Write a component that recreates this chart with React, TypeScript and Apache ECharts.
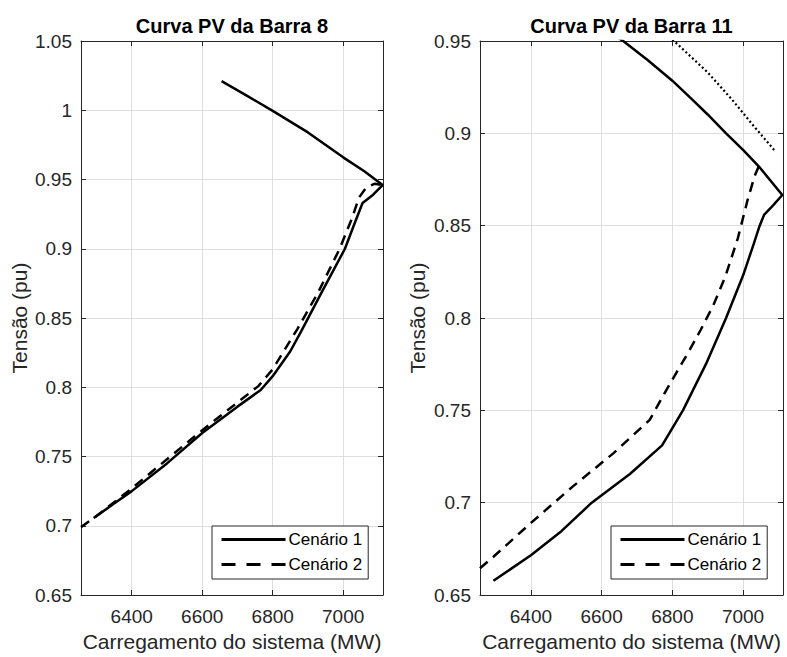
import React, { useEffect, useRef } from "react";
import * as echarts from "echarts";

// ---- Data (MW, pu) ----
const X_MIN = 6256;
const X_MAX = 7113;
const xTicks = [6400, 6600, 6800, 7000];

const barra8Cenario1: [number, number][] = [
  [6292, 0.7056], [6350, 0.716], [6400, 0.725], [6500, 0.745], [6600, 0.767],
  [6700, 0.786], [6766, 0.798], [6800, 0.808], [6850, 0.826], [6880, 0.84],
  [6940, 0.869], [7005, 0.9], [7035, 0.92], [7055, 0.933], [7085, 0.939],
  [7112, 0.946], [7060, 0.956], [7000, 0.966], [6900, 0.984], [6800, 0.9995],
  [6730, 1.01], [6655, 1.021],
];
const barra8Cenario2: [number, number][] = [
  [6256, 0.699], [6300, 0.707], [6400, 0.727], [6500, 0.748], [6600, 0.769],
  [6700, 0.789], [6760, 0.801], [6800, 0.813], [6870, 0.842], [6930, 0.869],
  [6990, 0.9], [7025, 0.922], [7045, 0.937], [7065, 0.944], [7090, 0.947],
  [7112, 0.946],
];

const barra11Cenario1: [number, number][] = [
  [6294, 0.6577], [6400, 0.6715], [6487, 0.6847], [6572, 0.7], [6680, 0.7155],
  [6771, 0.731], [6830, 0.75], [6895, 0.775], [6952, 0.8], [7000, 0.823],
  [7030, 0.84], [7047, 0.85], [7060, 0.856], [7085, 0.861], [7111, 0.8666],
  [7045, 0.882], [7000, 0.891], [6952, 0.9], [6900, 0.9102], [6858, 0.918],
  [6800, 0.9285], [6730, 0.9397], [6661, 0.95], [6560, 0.962],
];
const barra11Cenario2: [number, number][] = [
  [6256, 0.6645], [6294, 0.6707], [6401, 0.6892], [6518, 0.7087], [6633, 0.7267],
  [6736, 0.7448], [6783, 0.761], [6849, 0.7827], [6880, 0.7935], [6915, 0.8065],
  [6950, 0.8225], [6985, 0.843], [7013, 0.864], [7033, 0.877], [7050, 0.8846],
];
const barra11Cenario2Superior: [number, number][] = [
  [7088, 0.891], [7030, 0.904], [6970, 0.918], [6900, 0.933], [6802, 0.9505],
  [6700, 0.966],
];

const titles = ["Curva PV da Barra 8", "Curva PV da Barra 11"];
const yRanges: [number, number][] = [[0.65, 1.05], [0.65, 0.95]];
const legendNames = ["Cenário 1", "Cenário 2"];
const xLabel = "Carregamento do sistema (MW)";
const yLabel = "Tensão (pu)";

const FONT = "'Liberation Sans', Arial, Helvetica, sans-serif";
const AX = "#262626";
const GRIDC = "#dedede";

export default function App() {
  const ref = useRef<HTMLDivElement>(null);
  useEffect(() => {
    if (!ref.current) return;
    const chart = echarts.init(ref.current, undefined, { renderer: "svg" });

    const grids = [
      { left: 81, top: 41, width: 302, height: 554 },
      { left: 480, top: 41, width: 303, height: 554 },
    ];

    const xAxes: any[] = [];
    const yAxes: any[] = [];
    grids.forEach((_, g) => {
      const baseX = {
        type: "value",
        gridIndex: g,
        min: X_MIN,
        max: X_MAX,
        minInterval: 200,
        maxInterval: 200,
        axisLine: { show: true, onZero: false, lineStyle: { color: AX, width: 1 } },
        axisTick: { show: true, inside: true, length: 5, lineStyle: { color: AX } },
      };
      xAxes.push({
        ...baseX,
        position: "bottom",
        splitLine: { show: true, lineStyle: { color: GRIDC, width: 1 } },
        axisLabel: {
          show: true,
          margin: 12,
          fontSize: 19,
          color: AX,
          fontFamily: FONT,
          showMinLabel: false,
          showMaxLabel: false,
          formatter: (v: number) => (xTicks.includes(Math.round(v)) ? String(Math.round(v)) : ""),
        },
        name: xLabel,
        nameLocation: "middle",
        nameGap: 31,
        nameTextStyle: { fontSize: 21, color: AX, fontFamily: FONT },
      });
      xAxes.push({
        ...baseX,
        position: "top",
        splitLine: { show: false },
        axisLabel: { show: false },
        name: titles[g],
        nameLocation: "middle",
        nameGap: 5,
        nameTextStyle: { fontSize: 20, fontWeight: "bold", color: "#000", fontFamily: FONT },
      });
      const baseY = {
        type: "value",
        gridIndex: g,
        min: yRanges[g][0],
        max: yRanges[g][1],
        interval: 0.05,
        axisLine: { show: true, onZero: false, lineStyle: { color: AX, width: 1 } },
        axisTick: { show: true, inside: true, length: 5, lineStyle: { color: AX } },
      };
      yAxes.push({
        ...baseY,
        position: "left",
        splitLine: { show: true, lineStyle: { color: GRIDC, width: 1 } },
        axisLabel: { show: true, margin: 9, fontSize: 19, color: AX, fontFamily: FONT },
        name: yLabel,
        nameLocation: "middle",
        nameGap: g === 0 ? 51 : 52,
        nameTextStyle: { fontSize: 21, color: AX, fontFamily: FONT },
      });
      yAxes.push({
        ...baseY,
        position: "right",
        splitLine: { show: false },
        axisLabel: { show: false },
      });
    });

    const solid = { color: "#000", width: 2.5, type: "solid" };
    const dashed = { color: "#000", width: 2.5, type: [10, 7] };

    const series: any[] = [
      { name: legendNames[0], data: barra8Cenario1, xAxisIndex: 0, yAxisIndex: 0, lineStyle: solid },
      { name: legendNames[1], data: barra8Cenario2, xAxisIndex: 0, yAxisIndex: 0, lineStyle: dashed },
      { name: legendNames[0], data: barra11Cenario1, xAxisIndex: 2, yAxisIndex: 2, lineStyle: solid },
      { name: legendNames[1], data: barra11Cenario2, xAxisIndex: 2, yAxisIndex: 2, lineStyle: dashed },
      {
        name: "Cenário 2 (ramo superior)",
        data: barra11Cenario2Superior,
        xAxisIndex: 2,
        yAxisIndex: 2,
        lineStyle: { color: "#000", width: 2.2, type: [2, 2.5] },
      },
    ].map((s) => ({
      ...s,
      type: "line",
      symbol: "none",
      showSymbol: false,
      smooth: false,
      clip: true,
      itemStyle: { color: "#000" },
      z: 3,
    }));

    const mkLegend = (left: number) => ({
      left,
      top: 526,
      orient: "vertical",
      data: [
        { name: legendNames[0] },
        { name: legendNames[1], lineStyle: { type: [14, 11] } },
      ],
      itemWidth: 64,
      itemHeight: 17,
      itemGap: 8,
      padding: [5, 6, 6, 8],
      borderColor: AX,
      borderWidth: 1,
      borderRadius: 0,
      backgroundColor: "#fff",
      selectedMode: false,
      itemStyle: { opacity: 0 },
      lineStyle: { width: 3 },
      textStyle: { fontSize: 17, color: "#000", fontFamily: FONT, padding: [0, 0, 0, -2] },
    });

    chart.setOption({
      animation: false,
      backgroundColor: "#fff",
      textStyle: { fontFamily: FONT },
      grid: grids.map((g) => ({ ...g, containLabel: false, show: false })),
      xAxis: xAxes,
      yAxis: yAxes,
      legend: [mkLegend(212), mkLegend(611)],
      series,
    });
    return () => chart.dispose();
  }, []);

  return (
    <div
      ref={ref}
      style={{ position: "fixed", left: 0, top: 0, width: 787, height: 657, background: "#fff" }}
    />
  );
}
